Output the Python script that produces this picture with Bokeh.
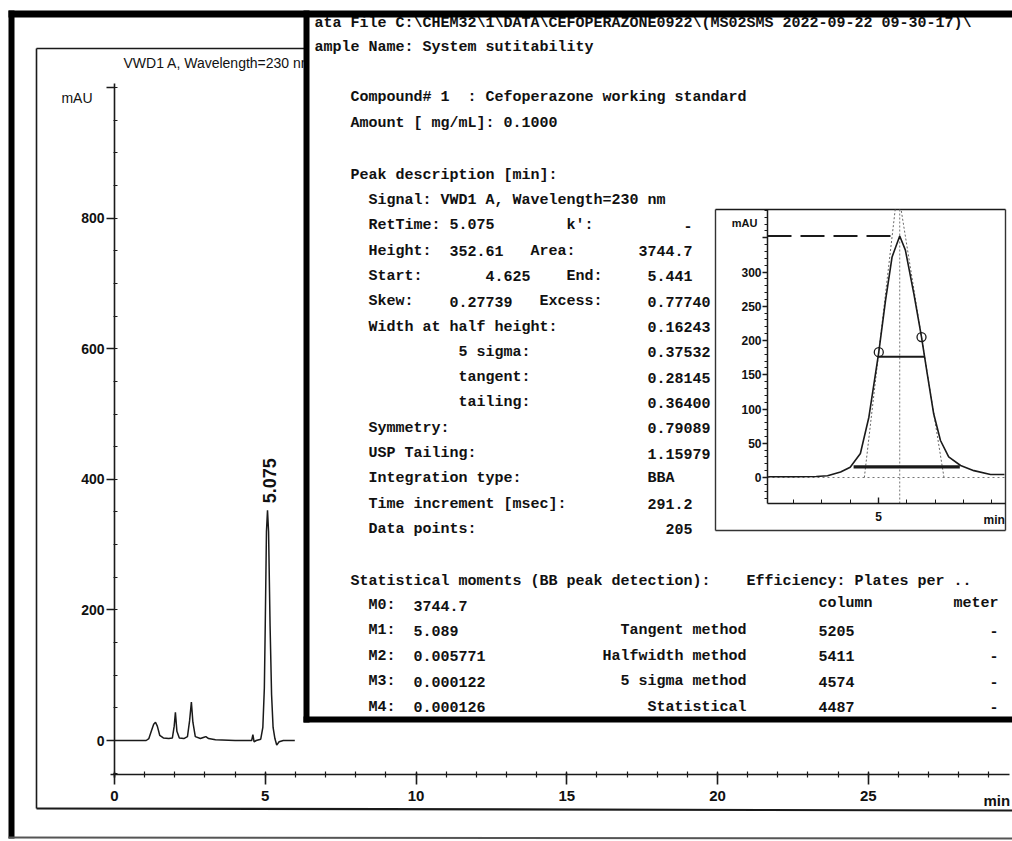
import math
from bokeh.plotting import figure
from bokeh.models import (Range1d, LinearAxis, SingleIntervalTicker,
                          PrintfTickFormatter, ColumnDataSource)
from bokeh.core.properties import value
from bokeh.embed import file_html
from bokeh.resources import INLINE

# ---------------- data ----------------
signal_title = "VWD1 A, Wavelength=230 nm"
peak_rt = 5.075
peak_height = 352.61
peak_rt_label = "5.075"

# full chromatogram (min, mAU)
main_time = [0.00, 0.60, 1.05, 1.14, 1.22, 1.30, 1.36, 1.42, 1.50, 1.62,
             1.80, 1.92, 1.98, 2.02, 2.07, 2.15, 2.30, 2.42, 2.49, 2.55,
             2.60, 2.68, 2.85, 2.97, 3.03, 3.12, 3.35, 4.00, 4.55, 4.59,
             4.63, 4.70, 4.85, 4.92, 4.97, 5.00, 5.04, 5.075, 5.11, 5.16,
             5.21, 5.26, 5.32, 5.38, 5.46, 5.60, 5.98]
main_mau = [0, 0, 0, 3, 14, 25, 28, 22, 8, 4,
            3, 4, 22, 43, 14, 4, 3, 6, 30, 59,
            28, 6, 3, 5, 6, 3, 1, 0, 0, 9,
            -2, 0, 2, 20, 80, 176, 320, 352.61, 320, 176,
            70, 20, 3, -7, -2, 0, 0]

# zoomed peak (inset)
inset_time = [4.61, 4.70, 4.78, 4.82, 4.866, 4.90, 4.936, 4.966, 5.001, 5.025,
              5.048, 5.075, 5.095, 5.125, 5.152, 5.172, 5.195, 5.219, 5.248, 5.29,
              5.337, 5.396, 5.445]
inset_mau = [1, 1, 1.5, 2.5, 8, 15, 35, 88, 183, 259,
             322, 352.61, 332, 268, 205, 152, 93, 54, 30, 17.5,
             10, 4.4, 4.4]
inflect_time = [5.001, 5.152]
inflect_mau = [183, 205]
half_start = 5.000
width_half = 0.16243
sigma_start = 4.912
width_5sigma = 0.37532
tangent_start = 4.950
width_tangent = 0.28145

# report text
header_lines = ["ata File C:\\CHEM32\\1\\DATA\\CEFOPERAZONE0922\\(MS02SMS 2022-09-22 09-30-17)\\",
                "ample Name: System sutitability"]
compound_rows = [[(-2, "Compound# 1"), (11, ": Cefoperazone working standard")],
                 [(-2, "Amount [ mg/mL]: 0.1000")]]
peak_desc_title = "Peak description [min]:"
peak_rows = [
    [(0, "Signal: VWD1 A, Wavelength=230 nm")],
    [(0, "RetTime: 5.075"), (22, "k':"), (35, "-")],
    [(0, "Height:"), (9, "352.61"), (18, "Area:"), (30, "3744.7")],
    [(0, "Start:"), (13, "4.625"), (22, "End:"), (31, "5.441")],
    [(0, "Skew:"), (9, "0.27739"), (19, "Excess:"), (31, "0.77740")],
    [(0, "Width at half height:"), (31, "0.16243")],
    [(10, "5 sigma:"), (31, "0.37532")],
    [(10, "tangent:"), (31, "0.28145")],
    [(10, "tailing:"), (31, "0.36400")],
    [(0, "Symmetry:"), (31, "0.79089")],
    [(0, "USP Tailing:"), (31, "1.15979")],
    [(0, "Integration type:"), (31, "BBA")],
    [(0, "Time increment [msec]:"), (31, "291.2")],
    [(0, "Data points:"), (33, "205")],
]
stat_title = "Statistical moments (BB peak detection):"
eff_title = "Efficiency: Plates per .."
moment_names = ["M0:", "M1:", "M2:", "M3:", "M4:"]
moment_values = ["3744.7", "5.089", "0.005771", "0.000122", "0.000126"]
method_names = ["", "Tangent method", "Halfwidth method", "5 sigma method", "Statistical"]
plates_column = ["", "5205", "5411", "4574", "4487"]
plates_meter = ["", "-", "-", "-", "-"]

# ---------------- layout ----------------
W, H = 1012, 841
OX, OY = 0, 0


def xrange_for(p0, v0, ppu):
    return Range1d(v0 + (OX - p0) / ppu, v0 + (OX + W - p0) / ppu)


def yrange_for(p0, v0, ppu):
    return Range1d(v0 + (p0 - (OY + H)) / ppu, v0 + (p0 - OY) / ppu)


def xval(px, p0, v0, ppu):
    return v0 + (px - p0) / ppu


def yval(py, p0, v0, ppu):
    return v0 + (p0 - py) / ppu


# main chart mapping
MX0, MXS = 114.0, 30.15
MY0, MYS = 740.0, 0.653
# inset mapping
IX0, IXV, IXS = 878.0, 5.0, 283.0
IY0, IYS = 477.0, 0.685

p = figure(width=W, height=H,
           x_range=xrange_for(MX0, 0.0, MXS), y_range=yrange_for(MY0, 0.0, MYS),
           output_backend="svg", toolbar_location=None,
           x_axis_location=None, y_axis_location=None, min_border=0,
           outline_line_color=None, background_fill_color="white",
           border_fill_color="white")
p.grid.visible = False
p.extra_x_ranges = {"px": Range1d(OX, OX + W), "ix": xrange_for(IX0, IXV, IXS)}
p.extra_y_ranges = {"px": Range1d(OY + H, OY), "iy": yrange_for(IY0, 0.0, IYS)}

INK = "#1a1a1a"
SANS = "Liberation Sans"
MONO = "Liberation Mono"


def px_text(xs, ys, texts, font=MONO, size="15px", align="left", style="normal",
            color="#151515"):
    src = ColumnDataSource(dict(x=xs, y=ys, text=texts))
    p.text(x="x", y="y", text="text", source=src, x_range_name="px", y_range_name="px",
           text_font=value(font), text_font_size=size, text_align=align,
           text_baseline="middle", text_font_style=style, text_color=color)


def px_seg(x0, y0, x1, y1, width=1.5, color=INK, dash="solid"):
    p.segment(x0=[x0], y0=[y0], x1=[x1], y1=[y1], x_range_name="px", y_range_name="px",
              line_width=width, line_color=color, line_dash=dash)


def px_box(l, r, t, b, color="black"):
    p.quad(left=[l], right=[r], top=[t], bottom=[b], x_range_name="px", y_range_name="px",
           fill_color=color, line_color=None)


RIGHT = OX + W

# inner chart frame
px_seg(36, 48, 36, 808, width=1.6)
px_seg(36, 48, RIGHT, 48, width=1.4)
px_seg(36, 808, RIGHT, 810, width=2.2)

# main chromatogram trace
p.line(main_time, main_mau, line_color=INK, line_width=1.5)
p.text(x=[peak_rt], y=[peak_height], text=[peak_rt_label], angle=math.pi / 2,
       x_offset=2, y_offset=-7, text_align="left", text_baseline="middle",
       text_font=value(SANS), text_font_size="18px", text_font_style="bold",
       text_color="#111")

# main titles
px_text([123], [62], [signal_title], font=SANS, size="14px", color="#111")
px_text([92], [97], ["mAU"], font=SANS, size="14px", align="right", color="#111")
px_text([983], [800], ["min"], font=SANS, size="15px", style="bold", color="#111")

# main axes
yax = LinearAxis(fixed_location=0.0, bounds=(-56, 1006),
                 ticker=SingleIntervalTicker(interval=200, num_minor_ticks=4),
                 major_label_overrides={1000: ""})
xax = LinearAxis(fixed_location=yval(774, MY0, 0.0, MYS), bounds=(-0.13, 29.7),
                 ticker=SingleIntervalTicker(interval=5, num_minor_ticks=5))
for ax in (yax, xax):
    ax.axis_line_color = INK
    ax.axis_line_width = 1.6
    ax.major_tick_line_color = INK
    ax.major_tick_line_width = 1.6
    ax.minor_tick_line_color = INK
    ax.minor_tick_line_width = 1.2
    ax.major_label_text_font = SANS
    ax.major_label_text_font_style = "bold"
    ax.major_label_text_color = "#111"
yax.major_tick_out, yax.major_tick_in = 8, 0
yax.minor_tick_out, yax.minor_tick_in = 1, 3
yax.major_label_standoff = 2
yax.major_label_text_font_size = "14px"
xax.major_tick_out, xax.major_tick_in = 10, 2
xax.minor_tick_out, xax.minor_tick_in = 3, 3
xax.major_label_standoff = 6
xax.major_label_text_font_size = "15px"
p.add_layout(yax, "left")
p.add_layout(xax, "below")

# ---------------- report panel ----------------
px_box(306, RIGHT, 14, 719, color="white")

CW, X0 = 9.0, 368.0


def cx(c):
    return X0 + c * CW


tx, ty, ts = [], [], []


def add(y, items):
    for c, s in items:
        tx.append(cx(c)); ty.append(y); ts.append(s)


add(23, [(-6, header_lines[0])])
add(47, [(-6, header_lines[1])])
add(97, compound_rows[0])
add(123, compound_rows[1])
add(175, [(-2, peak_desc_title)])
for i, row in enumerate(peak_rows):
    add(200 + 25.3 * i, row)
add(581, [(-2, stat_title), (42, eff_title)])
for i in range(len(moment_names)):
    y = 605 + 25.4 * i
    items = [(0, moment_names[i]), (5, moment_values[i])]
    if method_names[i]:
        items.append((42 - len(method_names[i]), method_names[i]))
    if plates_column[i]:
        items.append((50, plates_column[i]))
    if plates_meter[i]:
        items.append((69, plates_meter[i]))
    add(y, items)
add(603, [(50, "column"), (65, "meter")])
px_text(tx, ty, ts, style="bold", color="#111")

# ---------------- inset peak plot ----------------
INSET_R = 1005
px_seg(715, 209, INSET_R, 209, width=1.6)
px_seg(715, 209, 715, 530, width=1.4, color="#333")
px_seg(715, 530, INSET_R, 530, width=1.4, color="#333")
px_seg(INSET_R, 209, INSET_R, 530, width=1.4, color="#333")

ix_left = xval(767, IX0, IXV, IXS)
ix_right = xval(INSET_R, IX0, IXV, IXS)
iy_bottom = yval(503, IY0, 0.0, IYS)
iy_top = yval(209, IY0, 0.0, IYS)

iopts = dict(x_range_name="ix", y_range_name="iy")
# baseline (dotted)
p.segment(x0=[ix_left], y0=[0], x1=[ix_right], y1=[0], line_color="#777",
          line_width=1, line_dash="2 3", **iopts)
# retention time marker (dotted)
p.segment(x0=[peak_rt], y0=[iy_bottom], x1=[peak_rt], y1=[iy_top], line_color="#777",
          line_width=1, line_dash="2 2", **iopts)
# tangents
tl0 = tangent_start
tr0 = tangent_start + width_tangent
tl1 = tl0 + iy_top * (inflect_time[0] - tl0) / inflect_mau[0]
tr1 = tr0 + iy_top * (inflect_time[1] - tr0) / inflect_mau[1]
p.segment(x0=[tl0, tr0], y0=[0, 0], x1=[tl1, tr1], y1=[iy_top, iy_top],
          line_color="#666", line_width=1, line_dash="2 2", **iopts)
# apex height dashed line
p.segment(x0=[ix_left], y0=[peak_height], x1=[peak_rt], y1=[peak_height],
          line_color=INK, line_width=2, line_dash="24 9", **iopts)
# peak curve
p.line(inset_time, inset_mau, line_color=INK, line_width=1.6, **iopts)
# half height width
p.segment(x0=[half_start], y0=[peak_height / 2], x1=[half_start + width_half],
          y1=[peak_height / 2], line_color=INK, line_width=2, **iopts)
# 5 sigma width
p.segment(x0=[sigma_start], y0=[peak_height * 0.044], x1=[sigma_start + width_5sigma],
          y1=[peak_height * 0.044], line_color=INK, line_width=3.2, **iopts)
# inflection points
p.scatter(inflect_time, inflect_mau, marker="circle", size=9, fill_color=None,
          line_color=INK, line_width=1.3, **iopts)

iyax = LinearAxis(x_range_name="ix", y_range_name="iy", fixed_location=ix_left,
                  bounds=(iy_bottom, iy_top),
                  ticker=SingleIntervalTicker(interval=50, num_minor_ticks=5),
                  major_label_overrides={350: ""})
ixax = LinearAxis(x_range_name="ix", y_range_name="iy", fixed_location=iy_bottom,
                  bounds=(ix_left, ix_right),
                  ticker=SingleIntervalTicker(interval=0.5, num_minor_ticks=5),
                  formatter=PrintfTickFormatter(format="%d"))
for ax in (iyax, ixax):
    ax.axis_line_color = INK
    ax.axis_line_width = 1.5
    ax.major_tick_line_color = INK
    ax.major_tick_line_width = 1.4
    ax.minor_tick_line_color = INK
    ax.minor_tick_line_width = 1.0
    ax.major_label_text_font = SANS
    ax.major_label_text_font_style = "bold"
    ax.major_label_text_font_size = "12px"
    ax.major_label_text_color = "#111"
iyax.major_tick_out, iyax.major_tick_in = 5, 0
iyax.minor_tick_out, iyax.minor_tick_in = 3, 0
iyax.major_label_standoff = 1
ixax.major_tick_out, ixax.major_tick_in = 0, 6
ixax.minor_tick_out, ixax.minor_tick_in = 0, 4
ixax.major_label_standoff = 8
p.add_layout(iyax, "left")
p.add_layout(ixax, "below")

px_text([757], [222], ["mAU"], font=SANS, size="11px", align="right", style="bold",
        color="#111")
px_text([983], [519], ["min"], font=SANS, size="12px", style="bold", color="#111")

# ---------------- borders ----------------
px_box(303, 309, 10, 722)          # panel left border
px_box(303, RIGHT, 716, 722)       # panel bottom border
px_box(8, RIGHT, 10, 17)           # top band
px_box(8, 14, 10, 838)             # left band
px_seg(8, 837, RIGHT, 838, width=2, color="#555")

open("out.html", "w").write(file_html(p, INLINE))
